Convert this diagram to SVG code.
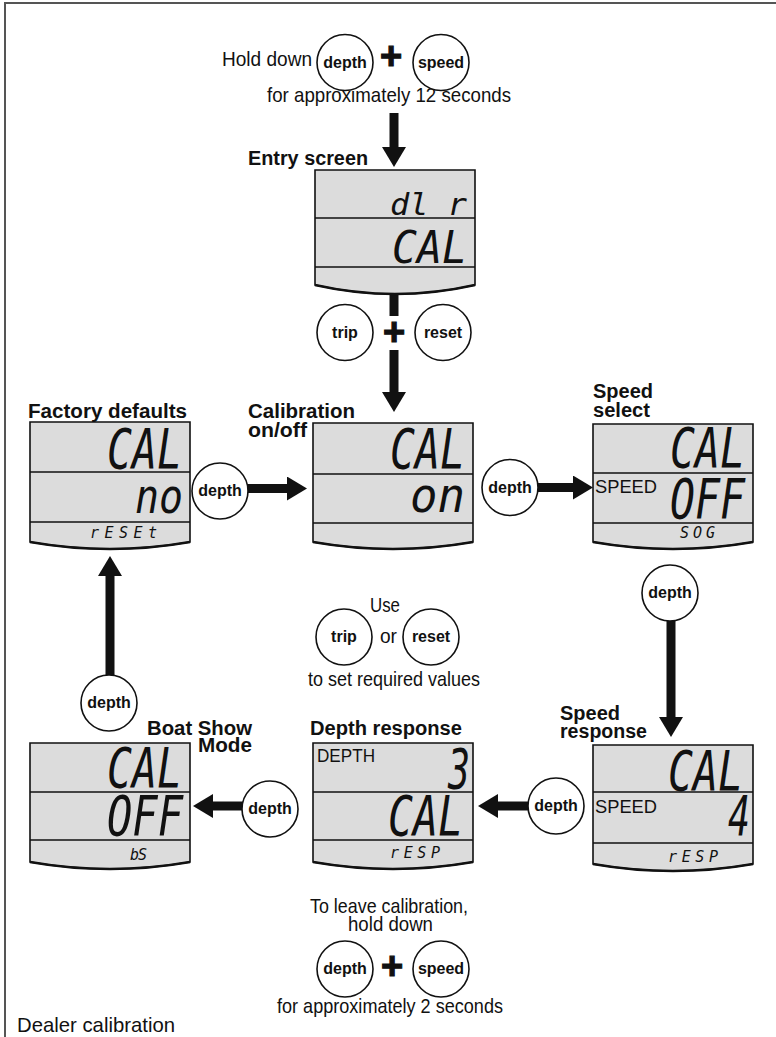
<svg xmlns="http://www.w3.org/2000/svg" width="776" height="1037" viewBox="0 0 776 1037">
<style>
.frame{stroke:#555;stroke-width:2;fill:none}
.lcd{fill:#dcdcdc;stroke:#111;stroke-width:1.6}
.div{stroke:#111;stroke-width:1.6}
.bot{fill:none;stroke:#111;stroke-width:2.6}
.seg{font-family:"DejaVu Sans Mono","Liberation Mono",monospace;font-style:oblique;fill:#111}
.plain{font-family:"Liberation Sans",Arial,sans-serif;font-size:18px;fill:#111}
.lbl{font-family:"Liberation Sans",Arial,sans-serif;font-weight:bold;font-size:20px;fill:#111}
.txt{font-family:"Liberation Sans Narrow","Liberation Sans",Arial,sans-serif;font-size:21px;fill:#111}
.btn circle{fill:#fff;stroke:#111;stroke-width:1.6}
.btn text{font-family:"Liberation Sans",Arial,sans-serif;font-weight:bold;font-size:16px;fill:#111;text-anchor:middle}
.plus{font-family:"Liberation Sans",Arial,sans-serif;font-weight:bold;font-size:38px;fill:#111;stroke:#111;stroke-width:1.2;text-anchor:middle}
.shaft{stroke:#111;stroke-width:9;fill:none}
</style>
<defs>
<marker id="ah" markerUnits="userSpaceOnUse" markerWidth="20" markerHeight="24" refX="0" refY="12" orient="auto">
<path d="M0,0 L20,12 L0,24 Z" fill="#111"/>
</marker>
</defs>

<g id="frame">
<path class="frame" d="M5,1037 V3 H776"/>
</g>

<g id="connectors">
<line class="shaft" x1="394" y1="113" x2="394" y2="147" marker-end="url(#ah)"/>
<line class="shaft" x1="394" y1="292" x2="394" y2="316"/>
<line class="shaft" x1="394" y1="350" x2="394" y2="392" marker-end="url(#ah)"/>
<line class="shaft" x1="247" y1="488.5" x2="287" y2="488.5" marker-end="url(#ah)"/>
<line class="shaft" x1="537" y1="487.5" x2="573" y2="487.5" marker-end="url(#ah)"/>
<line class="shaft" x1="671" y1="620" x2="671" y2="717" marker-end="url(#ah)"/>
<line class="shaft" x1="529" y1="806" x2="498" y2="806" marker-end="url(#ah)"/>
<line class="shaft" x1="243" y1="806" x2="213" y2="806" marker-end="url(#ah)"/>
<line class="shaft" x1="110" y1="676" x2="110" y2="576" marker-end="url(#ah)"/>
<text class="plus" x="391" y="69">+</text>
<text class="plus" x="394" y="345">+</text>
<text class="plus" x="392" y="979">+</text>
</g>

<g id="instr-top">
<text class="txt" x="222" y="66" textLength="90" lengthAdjust="spacingAndGlyphs">Hold down</text>
<text class="txt" x="267" y="102" textLength="244" lengthAdjust="spacingAndGlyphs">for approximately 12 seconds</text>
</g>

<g id="instr-mid">
<text class="txt" x="370" y="612" textLength="30" lengthAdjust="spacingAndGlyphs">Use</text>
<text class="txt" x="380" y="643" textLength="17" lengthAdjust="spacingAndGlyphs">or</text>
<text class="txt" x="308" y="686" textLength="172" lengthAdjust="spacingAndGlyphs">to set required values</text>
</g>

<g id="instr-bottom">
<text class="txt" x="310" y="913" textLength="158" lengthAdjust="spacingAndGlyphs">To leave calibration,</text>
<text class="txt" x="348" y="931" textLength="85" lengthAdjust="spacingAndGlyphs">hold down</text>
<text class="txt" x="277" y="1013" textLength="226" lengthAdjust="spacingAndGlyphs">for approximately 2 seconds</text>
</g>

<g id="caption">
<text class="txt" x="17" y="1032" textLength="158" lengthAdjust="spacingAndGlyphs">Dealer calibration</text>
</g>

<!-- Buttons -->
<g id="btn-depth-top" class="btn"><circle cx="345" cy="62.5" r="28"/><text x="345" y="67.5">depth</text></g>
<g id="btn-speed-top" class="btn"><circle cx="441" cy="62.5" r="28"/><text x="441" y="67.5">speed</text></g>
<g id="btn-trip-1" class="btn"><circle cx="345" cy="332.5" r="28"/><text x="345" y="337.5">trip</text></g>
<g id="btn-reset-1" class="btn"><circle cx="443" cy="332.5" r="28"/><text x="443" y="337.5">reset</text></g>
<g id="btn-depth-fc" class="btn"><circle cx="220" cy="491" r="28"/><text x="220" y="496">depth</text></g>
<g id="btn-depth-cs" class="btn"><circle cx="510" cy="487.5" r="28"/><text x="510" y="492.5">depth</text></g>
<g id="btn-depth-right" class="btn"><circle cx="670" cy="593" r="28"/><text x="670" y="598">depth</text></g>
<g id="btn-trip-2" class="btn"><circle cx="344" cy="637" r="28"/><text x="344" y="642">trip</text></g>
<g id="btn-reset-2" class="btn"><circle cx="431" cy="637" r="28"/><text x="431" y="642">reset</text></g>
<g id="btn-depth-left" class="btn"><circle cx="109" cy="703" r="28"/><text x="109" y="708">depth</text></g>
<g id="btn-depth-db" class="btn"><circle cx="270" cy="809" r="28"/><text x="270" y="814">depth</text></g>
<g id="btn-depth-sd" class="btn"><circle cx="556" cy="806" r="28"/><text x="556" y="811">depth</text></g>
<g id="btn-depth-bottom" class="btn"><circle cx="345" cy="969" r="28"/><text x="345" y="974">depth</text></g>
<g id="btn-speed-bottom" class="btn"><circle cx="441" cy="969" r="28"/><text x="441" y="974">speed</text></g>

<!-- Screens -->
<g id="entry-screen">
<text class="lbl" x="248" y="165" textLength="120" lengthAdjust="spacingAndGlyphs">Entry screen</text>
<path class="lcd" d="M315,170 H475 V285 Q395,303 315,285 Z"/>
<path class="bot" d="M475,285 Q395,303 315,285"/>
<line class="div" x1="315" y1="218" x2="475" y2="218"/>
<line class="div" x1="315" y1="267" x2="475" y2="267"/>
<text class="seg" x="390" y="215" font-size="30" textLength="77" lengthAdjust="spacingAndGlyphs">dl r</text>
<text class="seg" x="392" y="263" font-size="45" textLength="75" lengthAdjust="spacingAndGlyphs">CAL</text>
</g>

<g id="factory-defaults">
<text class="lbl" x="28" y="418" textLength="159" lengthAdjust="spacingAndGlyphs">Factory defaults</text>
<path class="lcd" d="M30,422 H190 V542 Q110,556 30,542 Z"/>
<path class="bot" d="M190,542 Q110,556 30,542"/>
<line class="div" x1="30" y1="472" x2="190" y2="472"/>
<line class="div" x1="30" y1="522" x2="190" y2="522"/>
<text class="seg" x="107" y="468" font-size="55" textLength="75" lengthAdjust="spacingAndGlyphs">CAL</text>
<text class="seg" x="135" y="513" font-size="48" textLength="48" lengthAdjust="spacingAndGlyphs">no</text>
<text class="seg" x="90" y="538" font-size="15" textLength="67" lengthAdjust="spacing">rESEt</text>
</g>

<g id="calibration-onoff">
<text class="lbl" x="248" y="418" textLength="107" lengthAdjust="spacingAndGlyphs">Calibration</text>
<text class="lbl" x="248" y="437" textLength="59" lengthAdjust="spacingAndGlyphs">on/off</text>
<path class="lcd" d="M313,423 H473 V542 Q393,556 313,542 Z"/>
<path class="bot" d="M473,542 Q393,556 313,542"/>
<line class="div" x1="313" y1="474" x2="473" y2="474"/>
<line class="div" x1="313" y1="523" x2="473" y2="523"/>
<text class="seg" x="390" y="468" font-size="55" textLength="75" lengthAdjust="spacingAndGlyphs">CAL</text>
<text class="seg" x="410" y="512" font-size="48" textLength="55" lengthAdjust="spacingAndGlyphs">on</text>
</g>

<g id="speed-select">
<text class="lbl" x="593" y="398" textLength="60" lengthAdjust="spacingAndGlyphs">Speed</text>
<text class="lbl" x="593" y="417" textLength="57" lengthAdjust="spacingAndGlyphs">select</text>
<path class="lcd" d="M593,424 H753 V542 Q673,556 593,542 Z"/>
<path class="bot" d="M753,542 Q673,556 593,542"/>
<line class="div" x1="593" y1="473" x2="753" y2="473"/>
<line class="div" x1="593" y1="523" x2="753" y2="523"/>
<text class="seg" x="670" y="467" font-size="55" textLength="75" lengthAdjust="spacingAndGlyphs">CAL</text>
<text class="plain" x="595" y="493" textLength="62" lengthAdjust="spacingAndGlyphs">SPEED</text>
<text class="seg" x="670" y="518" font-size="55" textLength="75" lengthAdjust="spacingAndGlyphs">OFF</text>
<text class="seg" x="680" y="538" font-size="15" textLength="35" lengthAdjust="spacing">SOG</text>
</g>

<g id="boat-show-mode">
<text class="lbl" x="147" y="735" textLength="105" lengthAdjust="spacingAndGlyphs">Boat Show</text>
<text class="lbl" x="198" y="752" textLength="54" lengthAdjust="spacingAndGlyphs">Mode</text>
<path class="lcd" d="M30,743 H190 V862 Q110,876 30,862 Z"/>
<path class="bot" d="M190,862 Q110,876 30,862"/>
<line class="div" x1="30" y1="792" x2="190" y2="792"/>
<line class="div" x1="30" y1="840" x2="190" y2="840"/>
<text class="seg" x="107" y="787" font-size="55" textLength="75" lengthAdjust="spacingAndGlyphs">CAL</text>
<text class="seg" x="107" y="835" font-size="55" textLength="76" lengthAdjust="spacingAndGlyphs">OFF</text>
<text class="seg" x="130" y="860" font-size="15" textLength="17" lengthAdjust="spacing">bS</text>
</g>

<g id="depth-response">
<text class="lbl" x="310" y="735" textLength="152" lengthAdjust="spacingAndGlyphs">Depth response</text>
<path class="lcd" d="M313,743 H473 V862 Q393,876 313,862 Z"/>
<path class="bot" d="M473,862 Q393,876 313,862"/>
<line class="div" x1="313" y1="792" x2="473" y2="792"/>
<line class="div" x1="313" y1="840" x2="473" y2="840"/>
<text class="plain" x="317" y="762" font-size="17" textLength="58" lengthAdjust="spacingAndGlyphs">DEPTH</text>
<text class="seg" x="448" y="788" font-size="55" textLength="22" lengthAdjust="spacingAndGlyphs">3</text>
<text class="seg" x="388" y="835" font-size="55" textLength="75" lengthAdjust="spacingAndGlyphs">CAL</text>
<text class="seg" x="390" y="858" font-size="15" textLength="50" lengthAdjust="spacing">rESP</text>
</g>

<g id="speed-response">
<text class="lbl" x="560" y="720" textLength="60" lengthAdjust="spacingAndGlyphs">Speed</text>
<text class="lbl" x="560" y="738" textLength="87" lengthAdjust="spacingAndGlyphs">response</text>
<path class="lcd" d="M593,745 H753 V864 Q673,878 593,864 Z"/>
<path class="bot" d="M753,864 Q673,878 593,864"/>
<line class="div" x1="593" y1="792" x2="753" y2="792"/>
<line class="div" x1="593" y1="843" x2="753" y2="843"/>
<text class="seg" x="668" y="790" font-size="55" textLength="75" lengthAdjust="spacingAndGlyphs">CAL</text>
<text class="plain" x="595" y="813" textLength="62" lengthAdjust="spacingAndGlyphs">SPEED</text>
<text class="seg" x="728" y="835" font-size="55" textLength="22" lengthAdjust="spacingAndGlyphs">4</text>
<text class="seg" x="668" y="862" font-size="15" textLength="50" lengthAdjust="spacing">rESP</text>
</g>
</svg>
